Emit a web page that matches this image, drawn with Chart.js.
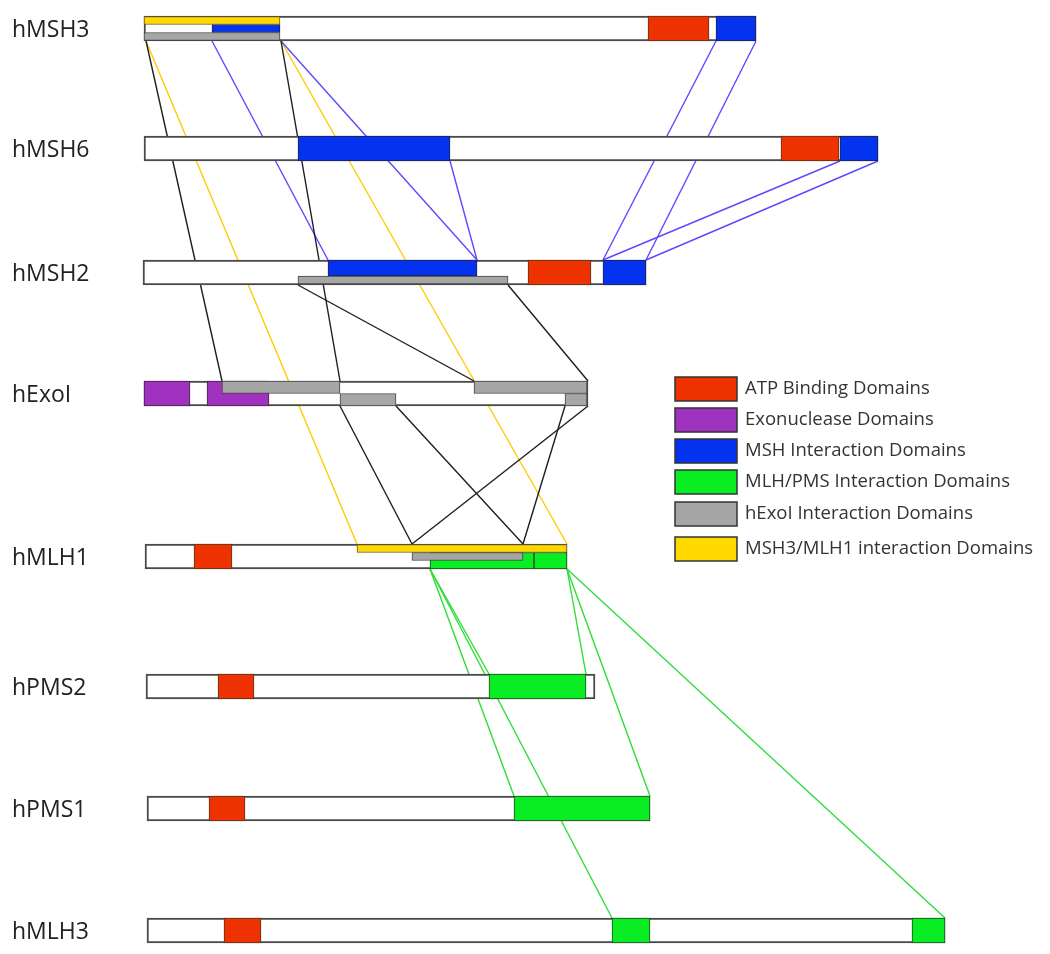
<!DOCTYPE html>
<html>
<head>
<meta charset="utf-8">
<script src="https://cdn.jsdelivr.net/npm/chart.js@4.4.1/dist/chart.umd.min.js"></script>
<style>
    body { margin: 0; background: #fff; }
    #wrap { width: 1050px; height: 954px; position: relative; }
</style>
</head>
<body>
<div id="wrap"><canvas id="myChart"></canvas></div>
<script>
// Proteínas (uma linha cada)
const proteins = ['hMSH3', 'hMSH6', 'hMSH2', 'hExoI', 'hMLH1', 'hPMS2', 'hPMS1', 'hMLH3'];
const rowPos = [28.5, 148.5, 272.5, 393.5, 556.5, 686.5, 808.5, 930.5];
const proteinStart = [144, 144, 143, 144, 145, 146, 147, 147];
const proteinEnd = [756, 878, 646, 588, 567, 595, 650, 945];

// Domínios: [linha, início, fim, faixa]
const atpDomains = [[0, 648, 709, 'full'], [1, 781, 839, 'full'], [2, 528, 591, 'full'], [4, 194, 232, 'full'], [5, 218, 254, 'full'], [6, 209, 245, 'full'], [7, 224, 261, 'full']];
const exoDomains = [[3, 144, 190, 'full'], [3, 207, 269, 'full']];
const mshDomains = [[0, 212, 280, 'm3'], [0, 716, 756, 'full'], [1, 298, 450, 'full'], [1, 840, 878, 'full'], [2, 328, 477, 'up'], [2, 603, 646, 'full']];
const mlhDomains = [[4, 430, 534, 'g'], [4, 534, 567, 'g'], [5, 489, 586, 'full'], [6, 514, 650, 'full'], [7, 612, 650, 'full'], [7, 912, 945, 'full']];
const exoIntDomains = [[0, 144, 280, 'b3'], [2, 298, 508, 'lo'], [3, 222, 340, 't2'], [3, 474, 587, 't2'], [3, 340, 396, 'b2'], [3, 565, 587, 'b2'], [4, 412, 523, 'm3']];
const msh3mlh1Domains = [[0, 144, 280, 't3'], [4, 357, 567, 't3']];

// Ligações: [linha origem, x origem, linha destino, x destino]
const yellowLinks = [[0, 146, 4, 357], [0, 281, 4, 567]];
const blackLinks = [[0, 146, 3, 222], [0, 281, 3, 340], [2, 298, 3, 474], [2, 508, 3, 588], [3, 340, 4, 412], [3, 588, 4, 412], [3, 396, 4, 523], [3, 565, 4, 523]];
const blueLinks = [[0, 212, 2, 328], [0, 281, 2, 477], [0, 716, 2, 603], [0, 756, 2, 646], [1, 840, 2, 603], [1, 878, 2, 646], [1, 450, 2, 477]];
const greenLinks = [[4, 430, 5, 489], [4, 567, 5, 586], [4, 430, 6, 514], [4, 567, 6, 650], [4, 430, 7, 612], [4, 567, 7, 945]];

// Legenda
const legendLabels = ['ATP Binding Domains', 'Exonuclease Domains', 'MSH Interaction Domains', 'MLH/PMS Interaction Domains', 'hExoI Interaction Domains', 'MSH3/MLH1 interaction Domains'];
const legendColors = ['#ee3300', '#a032c0', '#0433f0', '#08ee22', '#a6a6a6', '#ffd800'];

// faixas verticais: deslocamento e espessura (px)
const lanes = {
    full: [0, 25], t3: [-8, 8], m3: [0, 8], b3: [8, 8],
    up: [-4.5, 16], lo: [7.5, 8], t2: [-6.25, 12.5], b2: [6.25, 12.5], g: [4.25, 16.5]
};
const rowHalf = 12.5;

const datasets = [];

function addLinks(list, color) {
    list.forEach(l => {
        datasets.push({
            type: 'line',
            data: [{ x: l[1], y: rowPos[l[0]] + rowHalf }, { x: l[3], y: rowPos[l[2]] - rowHalf }],
            borderColor: color,
            borderWidth: 1.4,
            pointRadius: 0,
            fill: false
        });
    });
}

function addBar(row, start, end, lane, fill, border, width) {
    const [off, h] = lanes[lane];
    datasets.push({
        type: 'bar',
        indexAxis: 'y',
        yAxisID: 'yb',
        stack: 'all',
        data: [{ x: [start, end], y: rowPos[row] + off }],
        barThickness: h,
        backgroundColor: fill,
        borderColor: border,
        borderWidth: width,
        borderSkipped: false
    });
}

addLinks(yellowLinks, '#ffcc00');
addLinks(blueLinks, '#5f48ff');
addLinks(blackLinks, '#1e1e1e');
addLinks(greenLinks, '#2fdd3a');

proteins.forEach((p, i) => addBar(i, proteinStart[i], proteinEnd[i], 'full', '#ffffff', '#4a4a4a', 2));
atpDomains.forEach(d => addBar(d[0], d[1], d[2], d[3], legendColors[0], '#553322', 1));
exoDomains.forEach(d => addBar(d[0], d[1], d[2], d[3], legendColors[1], '#442244', 1));
mshDomains.forEach(d => addBar(d[0], d[1], d[2], d[3], legendColors[2], '#222244', 1));
mlhDomains.forEach(d => addBar(d[0], d[1], d[2], d[3], legendColors[3], '#224422', 1));
exoIntDomains.forEach(d => addBar(d[0], d[1], d[2], d[3], legendColors[4], '#444444', 1));
msh3mlh1Domains.forEach(d => addBar(d[0], d[1], d[2], d[3], legendColors[5], '#665522', 1));

// primeiro da lista fica por baixo
datasets.forEach((ds, i) => { ds.order = datasets.length - i; });

// Nomes das proteínas e legenda
const textPlugin = {
    id: 'textPlugin',
    afterDraw(chart) {
        const ctx = chart.ctx;
        const y = chart.scales.y;
        ctx.save();
        ctx.font = '23px "Open Sans"';
        ctx.fillStyle = '#222';
        ctx.textBaseline = 'alphabetic';
        proteins.forEach((p, i) => ctx.fillText(p, 12, y.getPixelForValue(rowPos[i]) + 8.5));

        const tops = [377, 408, 439, 470, 502, 537];
        ctx.font = '18.5px "Open Sans"';
        legendLabels.forEach((label, i) => {
            ctx.fillStyle = legendColors[i];
            ctx.fillRect(675, tops[i], 62, 24);
            ctx.strokeStyle = '#333';
            ctx.lineWidth = 1.5;
            ctx.strokeRect(675, tops[i], 62, 24);
            ctx.fillStyle = '#333';
            ctx.textBaseline = 'middle';
            ctx.fillText(label, 745, tops[i] + 12);
        });
        ctx.restore();
    }
};

const ctx = document.getElementById('myChart').getContext('2d');
const myChart = new Chart(ctx, {
    type: 'bar',
    data: { datasets: datasets },
    options: {
        responsive: true,
        maintainAspectRatio: false,
        animation: false,
        layout: { padding: 0 },
        plugins: { legend: { display: false }, tooltip: { enabled: false } },
        scales: {
            x: { type: 'linear', min: 0, max: 1050, display: false, stacked: false, offset: false },
            y: { type: 'linear', min: 0, max: 954, reverse: true, display: false, offset: false },
            yb: { type: 'linear', min: 0, max: 954, reverse: true, display: false, stacked: true, offset: false }
        }
    },
    plugins: [textPlugin]
});
</script>
</body>
</html>
